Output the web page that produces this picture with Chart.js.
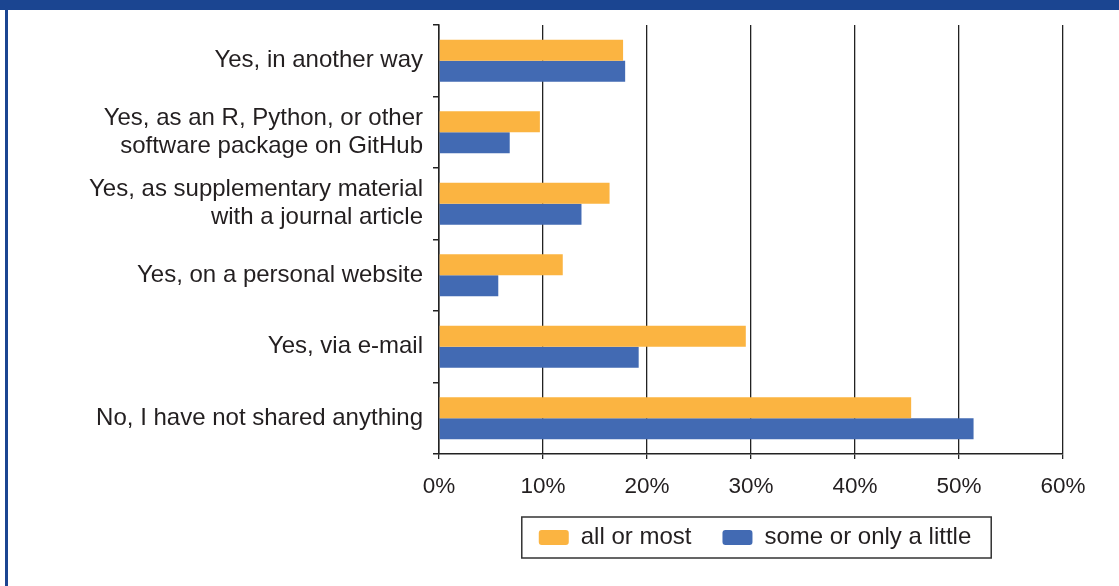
<!DOCTYPE html>
<html><head><meta charset="utf-8">
<script src="https://cdn.jsdelivr.net/npm/chart.js@4.4.1/dist/chart.umd.min.js"></script>
<style>
html,body{margin:0;padding:0;background:#fff;width:1119px;height:586px;overflow:hidden;}
#wrap{position:absolute;left:0;top:0;width:1119px;height:586px;}
#band{position:absolute;left:0;top:0;width:1119px;height:10px;background:#1b4591;}
#lbar{position:absolute;left:5px;top:0;width:3px;height:586px;background:#1b4591;}
</style></head><body>
<div id="wrap"><canvas id="c" width="1119" height="586"></canvas></div>
<div id="band"></div><div id="lbar"></div>
<script>
const categories = [
  "Yes, in another way",
  ["Yes, as an R, Python, or other", "software package on GitHub"],
  ["Yes, as supplementary material", "with a journal article"],
  "Yes, on a personal website",
  "Yes, via e-mail",
  "No, I have not shared anything"
];
const seriesNames = ["all or most", "some or only a little"];
const allOrMost = [17.7, 9.7, 16.4, 11.9, 29.5, 45.4];
const someOrLittle = [17.9, 6.8, 13.7, 5.7, 19.2, 51.4];
const tickValues = [0, 10, 20, 30, 40, 50, 60];

const FONT = "'Liberation Sans', Arial, Helvetica, sans-serif";
const TXT = "#231f20";
const LEG_PAD = 31, LEG_FS = 24;

const legendBox = {
  id: 'legendBox',
  afterLayout(chart) {
    const lg = chart.legend, ca = chart.chartArea;
    if (!lg) return;
    const d = 4;
    lg.left = ca.left + d;
    lg.right = ca.right + d;
    lg.width = lg.right - lg.left;
    const h = lg.bottom - lg.top;
    lg.top = 537.5 - LEG_PAD - LEG_FS / 2;
    lg.bottom = lg.top + h;
  },
  afterDraw(chart) {
    const lg = chart.legend;
    if (!lg || !lg.legendHitBoxes || !lg.legendHitBoxes.length) return;
    const hb = lg.legendHitBoxes;
    const x1 = hb[0].left - 17, x2 = hb[hb.length-1].left + hb[hb.length-1].width + 20;
    const cy = hb[0].top + hb[0].height/2;
    const ctx = chart.ctx;
    ctx.save();
    ctx.strokeStyle = '#333';
    ctx.lineWidth = 1.5;
    ctx.strokeRect(x1, cy - 20.5, x2 - x1, 41);
    ctx.restore();
  }
};

new Chart(document.getElementById('c'), {
  type: 'bar',
  data: {
    labels: categories,
    datasets: [
      {label: seriesNames[0], data: allOrMost, backgroundColor: '#fbb441', borderWidth: 0,
       categoryPercentage: 0.585, barPercentage: 1.0},
      {label: seriesNames[1], data: someOrLittle, backgroundColor: '#426ab3', borderWidth: 0,
       categoryPercentage: 0.585, barPercentage: 1.0}
    ]
  },
  plugins: [legendBox],
  options: {
    indexAxis: 'y',
    responsive: false,
    animation: false,
    layout: {padding: {left: 0, right: 56, top: 25, bottom: 19}},
    plugins: {
      tooltip: {enabled: false},
      legend: {
        position: 'bottom',
        labels: {
          font: {family: FONT, size: LEG_FS},
          color: TXT,
          boxWidth: 30, boxHeight: 15,
          useBorderRadius: true, borderRadius: 3,
          padding: LEG_PAD
        }
      }
    },
    scales: {
      x: {
        min: 0, max: 60,
        afterBuildTicks: s => { s.ticks = tickValues.map(v => ({value: v})); },
        afterFit: s => { s.height = 48; },
        ticks: {
          font: {family: FONT, size: 22.5}, color: TXT, padding: 14,
          maxRotation: 0,
          callback: v => v + '%'
        },
        grid: {color: '#222', lineWidth: 1.3, tickLength: 5, drawTicks: true},
        border: {color: '#222', width: 1.5}
      },
      y: {
        afterFit: s => { s.width = 439; },
        ticks: {
          font: {family: FONT, size: 24, lineHeight: 1.17}, color: TXT, padding: 10
        },
        grid: {drawOnChartArea: false, drawTicks: true, tickLength: 6, color: '#222', lineWidth: 1.5, offset: true},
        border: {color: '#222', width: 1.5}
      }
    }
  }
});
</script>
</body></html>
